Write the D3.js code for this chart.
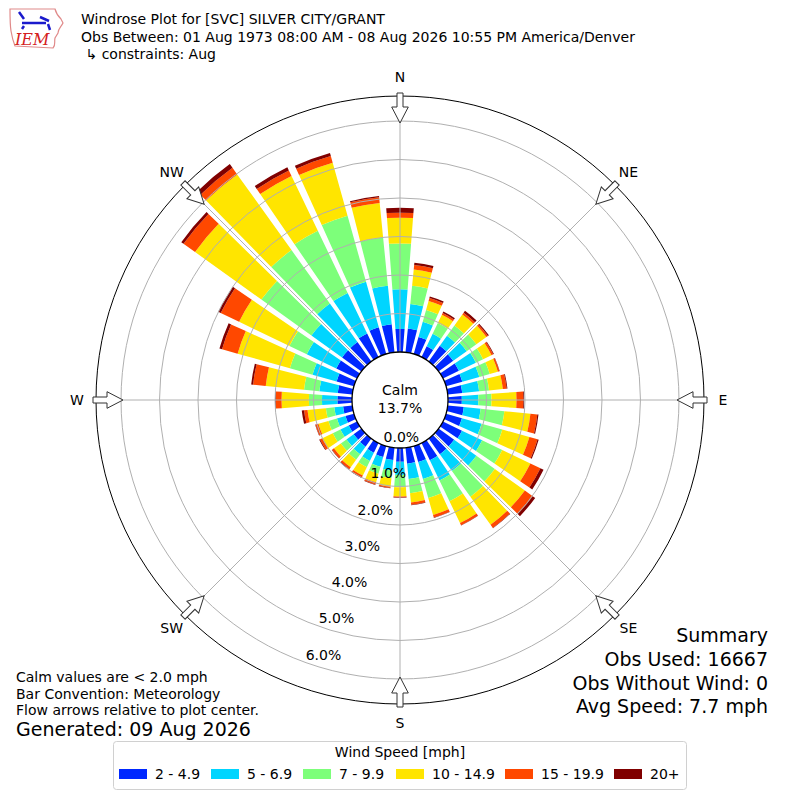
<!DOCTYPE html>
<html><head><meta charset="utf-8">
<script src="https://cdn.jsdelivr.net/npm/d3@7"></script>
<style>body{margin:0;background:#fff}svg text{font-family:"DejaVu Sans",sans-serif;fill:#000}</style>
</head><body><svg id="c" width="800" height="800"></svg>
<script>
// ---- data ----
const directions = [0,10,20,30,40,50,60,70,80,90,100,110,120,130,140,150,160,170,180,190,200,210,220,230,240,250,260,270,280,290,300,310,320,330,340,350];
const compassLabels = ["N","NE","E","SE","S","SW","W","NW"];
const compassAngles = [0,45,90,135,180,225,270,315];
const speedBins = ["2 - 4.9","5 - 6.9","7 - 9.9","10 - 14.9","15 - 19.9","20+"];
const binColors = ["#0028ff","#00d5ff","#7dff7a","#ffe500","#ff4800","#800000"];
// percent of observations per direction for each speed bin
const s2to5   = [0.60,0.62,0.46,0.31,0.50,0.47,0.46,0.44,0.38,0.36,0.42,0.43,0.55,0.50,0.50,0.50,0.43,0.42,0.36,0.32,0.30,0.28,0.26,0.25,0.24,0.23,0.24,0.38,0.38,0.47,0.60,0.62,0.62,0.68,0.72,0.73];
const s5to7   = [1.03,0.64,0.41,0.36,0.32,0.43,0.49,0.46,0.44,0.43,0.44,0.53,0.58,0.71,0.54,0.58,0.46,0.40,0.34,0.28,0.26,0.24,0.24,0.23,0.24,0.23,0.23,0.40,0.48,0.65,0.85,0.98,1.23,1.17,1.23,1.01];
const s7to10  = [1.19,0.48,0.32,0.31,0.33,0.31,0.21,0.28,0.26,0.34,0.62,0.56,0.58,0.59,0.82,0.60,0.51,0.37,0.32,0.20,0.19,0.18,0.18,0.18,0.22,0.23,0.22,0.34,0.40,0.61,0.50,1.60,1.71,1.79,1.78,1.26];
const s10to15 = [0.67,0.42,0.24,0.24,0.35,0.32,0.24,0.22,0.36,0.65,0.68,0.73,0.81,0.96,0.90,0.63,0.46,0.24,0.24,0.22,0.23,0.24,0.24,0.22,0.30,0.27,0.48,0.71,1.00,1.41,1.45,2.12,2.42,1.58,1.43,0.90];
const s15to20 = [0.13,0.12,0.08,0.05,0.06,0.05,0.05,0.04,0.10,0.18,0.18,0.22,0.29,0.25,0.10,0.06,0.07,0.06,0.02,0.03,0.06,0.06,0.06,0.06,0.07,0.08,0.09,0.15,0.33,0.42,0.53,0.37,0.21,0.16,0.18,0.15];
const s20plus = [0.13,0.06,0.04,0.04,0.06,0.03,0.02,0.01,0.02,0.02,0.03,0.03,0.09,0.08,0.01,0.01,0.01,0.01,0.01,0.01,0.01,0.01,0.01,0.01,0.02,0.01,0.06,0.02,0.05,0.07,0.07,0.07,0.12,0.09,0.08,0.03];
const ringTicks = [0,1,2,3,4,5,6];
const calmPct = 13.7;
const titleLines = ["Windrose Plot for [SVC] SILVER CITY/GRANT","Obs Between: 01 Aug 1973 08:00 AM - 08 Aug 2026 10:55 PM America/Denver"," \u21b3 constraints: Aug"];
const noteLines = ["Calm values are < 2.0 mph","Bar Convention: Meteorology","Flow arrows relative to plot center."];
const generated = "Generated: 09 Aug 2026";
const summaryLines = ["Summary","Obs Used: 16667","Obs Without Wind: 0","Avg Speed: 7.7 mph"];
const legendTitle = "Wind Speed [mph]";

// ---- drawing ----
const svg = d3.select("#c");
const cx = 400, cy = 400;
const rScale = d3.scaleLinear().domain([0, 6.65]).range([48, 304]);
const rad = d => d * Math.PI / 180;
const series = [s2to5, s5to7, s7to10, s10to15, s15to20, s20plus];

const g = svg.append("g").attr("transform", `translate(${cx},${cy})`);
const arc = d3.arc().padAngle(0.016).padRadius(100);
const half = rad((10 - 1.3) / 2);

directions.forEach((d, i) => {
  let cum = 0;
  series.forEach((s, j) => {
    const v0 = cum, v1 = cum + s[i];
    cum = v1;
    g.append("path")
      .attr("d", arc({innerRadius: rScale(v0), outerRadius: rScale(v1), startAngle: rad(d) - half, endAngle: rad(d) + half}))
      .attr("fill", binColors[j]);
  });
});

// grid
ringTicks.slice(1).forEach(t => {
  g.append("circle").attr("r", rScale(t)).attr("fill", "none").attr("stroke", "#b0b0b0").attr("stroke-width", 1);
});
compassAngles.forEach(a => {
  const r0 = rScale(0), r1 = rScale(6.65);
  g.append("line")
    .attr("x1", r0 * Math.sin(rad(a))).attr("y1", -r0 * Math.cos(rad(a)))
    .attr("x2", r1 * Math.sin(rad(a))).attr("y2", -r1 * Math.cos(rad(a)))
    .attr("stroke", "#b0b0b0").attr("stroke-width", 1);
});
g.append("circle").attr("r", rScale(6.65)).attr("fill", "none").attr("stroke", "#000").attr("stroke-width", 1);
g.append("circle").attr("r", rScale(0)).attr("fill", "#fff").attr("stroke", "#000").attr("stroke-width", 1.3);

// ring labels
ringTicks.forEach(t => {
  const a = rad(199.7), rr = rScale(t);
  g.append("text")
    .attr("x", rr * Math.sin(a) + 17.5).attr("y", -rr * Math.cos(a) - 8)
    .attr("text-anchor", "middle").attr("dominant-baseline", "central")
    .attr("font-size", 14).text(t.toFixed(1) + "%");
});

// arrows
compassAngles.forEach(a => {
  g.append("polygon")
    .attr("points", "-3,-307 3,-307 3,-293 8.3,-293 0,-277 -8.3,-293 -3,-293")
    .attr("transform", `rotate(${a})`)
    .attr("fill", "#fff").attr("stroke", "#333").attr("stroke-width", 1);
});
// compass labels
compassLabels.forEach((l, k) => {
  const a = rad(compassAngles[k]), rr = 323;
  g.append("text").attr("x", rr * Math.sin(a)).attr("y", -rr * Math.cos(a))
    .attr("text-anchor", "middle").attr("dominant-baseline", "central")
    .attr("font-size", 14).text(l);
});

// calm
g.append("text").attr("x", 0).attr("y", -10).attr("text-anchor", "middle").attr("dominant-baseline", "central").attr("font-size", 14).text("Calm");
g.append("text").attr("x", 0).attr("y", 8).attr("text-anchor", "middle").attr("dominant-baseline", "central").attr("font-size", 14).text(calmPct.toFixed(1) + "%");

// titles
titleLines.forEach((t, k) => {
  svg.append("text").attr("x", 81).attr("y", 19 + k * 17.5).attr("dominant-baseline", "central")
    .attr("font-size", 14).attr("xml:space", "preserve").style("white-space", "pre").text(t);
});
// notes
noteLines.forEach((t, k) => {
  svg.append("text").attr("x", 16).attr("y", 677 + k * 16.5).attr("dominant-baseline", "central")
    .attr("font-size", 14).text(t);
});
svg.append("text").attr("x", 16).attr("y", 729).attr("dominant-baseline", "central").attr("font-size", 19).text(generated);
summaryLines.forEach((t, k) => {
  svg.append("text").attr("x", 768).attr("y", 635 + k * 23.8).attr("text-anchor", "end").attr("dominant-baseline", "central")
    .attr("font-size", 19).text(t);
});

// legend
const legX = [119, 211, 303, 396, 505, 614];
svg.append("rect").attr("x", 113.5).attr("y", 741.5).attr("width", 573).attr("height", 48).attr("rx", 3)
  .attr("fill", "#fff").attr("stroke", "#d0d0d0");
svg.append("text").attr("x", 400).attr("y", 752).attr("text-anchor", "middle").attr("dominant-baseline", "central").attr("font-size", 14).text(legendTitle);
speedBins.forEach((b, k) => {
  svg.append("rect").attr("x", legX[k]).attr("y", 769).attr("width", 28).attr("height", 10).attr("fill", binColors[k]);
  svg.append("text").attr("x", legX[k] + 36).attr("y", 774).attr("dominant-baseline", "central").attr("font-size", 14).text(b);
});

// IEM logo (simplified)
const logo = svg.append("g");
logo.append("path")
  .attr("d", "M10,9 L55,9 C56,13 58,16 61,19 L63,23 C61,27 58,29 58,33 L55,38 C54,42 56,45 53,48 L15,46 C13,41 12,37 11,31 C10,25 10,18 10,9 Z")
  .attr("fill", "none").attr("stroke", "#e08a8a").attr("stroke-width", 1.2);
logo.append("path").attr("d", "M22,23 L46,23").attr("stroke", "#1a1acc").attr("stroke-width", 2.5);
logo.append("path").attr("d", "M19,12 L24,19 M40,17 L49,21 M48,24 L50,30 M24,26 L22,29").attr("stroke", "#1a1acc").attr("stroke-width", 2.5).attr("fill", "none");
logo.append("text").attr("x", 15).attr("y", 45).attr("font-size", 16).attr("font-style", "italic")
  .style("font-family", "'DejaVu Serif','Liberation Serif',serif").style("fill", "#d42020").text("IEM");
</script></body></html>
